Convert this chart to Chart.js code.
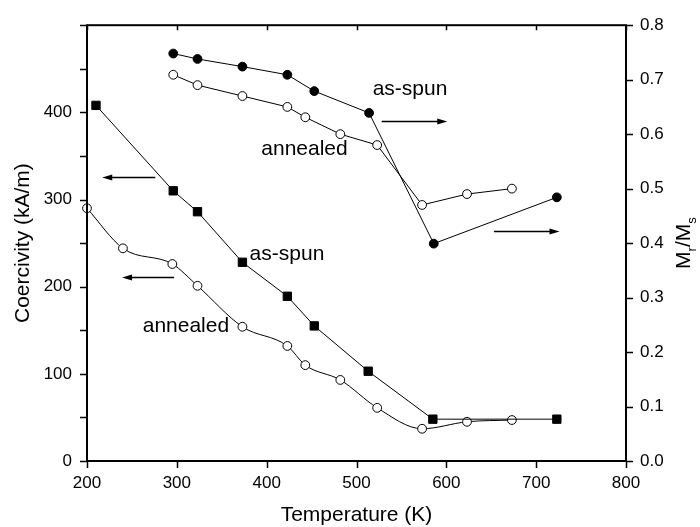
<!DOCTYPE html>
<html>
<head>
<meta charset="utf-8">
<script src="https://cdn.jsdelivr.net/npm/chart.js@4/dist/chart.umd.min.js"></script>
<style>
  html, body { margin: 0; padding: 0; background: #fff; }
  #wrap { width: 700px; height: 527px; }
</style>
</head>
<body>
<div id="wrap"><canvas id="c" width="700" height="527"></canvas></div>
<script>
// Coercivity (left axis, kA/m)
const asSpunHcT   = [210, 296, 323, 373, 423, 453, 513, 585, 723];
const asSpunHc    = [408, 310, 286, 228, 189, 155, 103, 48, 48];
const annealHcT   = [200, 240, 295, 323, 373, 423, 443, 482, 523, 573, 623, 673];
const annealHc    = [290, 244, 226, 201, 154, 132, 110, 93, 61, 37, 45, 47];

// Remanence ratio Mr/Ms (right axis)
const asSpunMrT   = [296, 323, 373, 423, 453, 514, 586, 723];
const asSpunMr    = [0.748, 0.738, 0.724, 0.709, 0.679, 0.639, 0.399, 0.484];
const annealMrT   = [296, 323, 373, 423, 443, 482, 523, 573, 623, 673];
const annealMr    = [0.709, 0.690, 0.670, 0.650, 0.631, 0.600, 0.580, 0.470, 0.490, 0.500];

const xTicks  = [200, 300, 400, 500, 600, 700, 800];
const yTicks  = [0, 100, 200, 300, 400];
const y2Ticks = [0, 0.1, 0.2, 0.3, 0.4, 0.5, 0.6, 0.7, 0.8];

// annotations: [x1, x2, y, axis]
const arrows = [
  [276, 217, 326, 'y'],
  [297, 239, 211, 'y'],
  [528, 601, 0.624, 'y2'],
  [653, 726, 0.422, 'y2'],
];
// [text, x(left), y(middle), axis]
const labels = [
  ['as-spun', 518, 0.682, 'y2'],
  ['annealed', 394, 0.573, 'y2'],
  ['as-spun', 381, 237, 'y'],
  ['annealed', 262, 155, 'y'],
];

const FONT = "'Liberation Sans', Arial, sans-serif";
const pts = (xs, ys) => xs.map((x, i) => ({ x, y: ys[i] }));

function series(data, axis, style, filled, smooth) {
  const r = style === 'rect' ? 5.9 : 4.4;
  return {
    data, yAxisID: axis, showLine: true,
    borderColor: '#000', borderWidth: 1,
    cubicInterpolationMode: smooth ? 'monotone' : 'default',
    pointStyle: style, pointRadius: r, pointHoverRadius: r,
    pointBorderColor: '#000', pointBorderWidth: 1,
    pointBackgroundColor: filled ? '#000' : '#fff',
    clip: false,
  };
}

const frame = {
  id: 'frame',
  afterDraw(chart) {
    const { ctx, chartArea: a, scales } = chart;
    const xs = scales.x, ys = scales.y, y2 = scales.y2;
    ctx.save();
    ctx.strokeStyle = '#000';
    ctx.lineWidth = 2;
    ctx.strokeRect(a.left, a.top, a.right - a.left, a.bottom - a.top);
    ctx.lineWidth = 1.5;
    ctx.beginPath();
    xTicks.forEach(v => {
      const px = Math.round(xs.getPixelForValue(v)) + 0.5;
      ctx.moveTo(px, a.bottom); ctx.lineTo(px, a.bottom + 7);
      ctx.moveTo(px, a.top); ctx.lineTo(px, a.top + 5);
    });
    for (let v = 0; v <= 500; v += 50) {
      const py = Math.round(ys.getPixelForValue(v)) + 0.5;
      ctx.moveTo(a.left, py); ctx.lineTo(a.left - 7, py);
    }
    y2Ticks.forEach(v => {
      const py = Math.round(y2.getPixelForValue(v)) + 0.5;
      ctx.moveTo(a.right, py); ctx.lineTo(a.right + 7, py);
    });
    ctx.stroke();

    // arrows
    ctx.lineWidth = 1.5;
    ctx.fillStyle = '#000';
    arrows.forEach(([x1, x2, y, ax]) => {
      const p1 = xs.getPixelForValue(x1), p2 = xs.getPixelForValue(x2);
      const py = Math.round(scales[ax].getPixelForValue(y)) + 0.5;
      const dir = Math.sign(p2 - p1);
      ctx.beginPath();
      ctx.moveTo(p1, py); ctx.lineTo(p2 - dir * 6, py);
      ctx.stroke();
      ctx.beginPath();
      ctx.moveTo(p2, py);
      ctx.lineTo(p2 - dir * 10, py - 3);
      ctx.lineTo(p2 - dir * 10, py + 3);
      ctx.closePath();
      ctx.fill();
    });

    // annotation text
    ctx.font = '21px ' + FONT;
    ctx.textBaseline = 'middle';
    ctx.textAlign = 'left';
    labels.forEach(([t, x, y, ax]) => {
      ctx.fillText(t, xs.getPixelForValue(x), scales[ax].getPixelForValue(y));
    });

    // axis titles
    const cy = (a.top + a.bottom) / 2;
    ctx.textAlign = 'center';
    ctx.fillText('Temperature (K)', (a.left + a.right) / 2, 515);
    ctx.save();
    ctx.translate(23, cy);
    ctx.rotate(-Math.PI / 2);
    ctx.fillText('Coercivity (kA/m)', 0, 0);
    ctx.restore();

    ctx.save();
    ctx.translate(684, cy);
    ctx.rotate(-Math.PI / 2);
    ctx.textAlign = 'left';
    const big = '21px ' + FONT, small = '13px ' + FONT;
    ctx.font = big;
    const wM = ctx.measureText('M').width, wS = ctx.measureText('/').width;
    ctx.font = small;
    const wr = ctx.measureText('r').width, ws = ctx.measureText('s').width;
    let x = -(2 * wM + wS + wr + ws) / 2;
    ctx.font = big; ctx.fillText('M', x, 0); x += wM;
    ctx.font = small; ctx.fillText('r', x, 8); x += wr;
    ctx.font = big; ctx.fillText('/', x, 0); x += wS;
    ctx.fillText('M', x, 0); x += wM;
    ctx.font = small; ctx.fillText('s', x, 8);
    ctx.restore();
    ctx.restore();
  }
};

const tickFont = { family: FONT, size: 17 };

new Chart(document.getElementById('c'), {
  type: 'scatter',
  data: {
    datasets: [
      series(pts(asSpunHcT, asSpunHc), 'y', 'rect', true),
      series(pts(annealHcT, annealHc), 'y', 'circle', false, true),
      series(pts(asSpunMrT, asSpunMr), 'y2', 'circle', true),
      series(pts(annealMrT, annealMr), 'y2', 'circle', false),
    ]
  },
  options: {
    responsive: false,
    animation: false,
    events: [],
    layout: { padding: { top: 20, left: 0, right: 0, bottom: 0 } },
    plugins: { legend: { display: false }, tooltip: { enabled: false } },
    scales: {
      x: {
        type: 'linear', position: 'bottom', min: 200, max: 800,
        afterBuildTicks: s => { s.ticks = xTicks.map(v => ({ value: v })); },
        ticks: { color: '#000', font: tickFont, padding: 12, maxRotation: 0 },
        grid: { display: false, drawTicks: false }, border: { display: false },
        afterFit: s => { s.height = 66; },
      },
      y: {
        position: 'left', min: 0, max: 500,
        afterBuildTicks: s => { s.ticks = yTicks.map(v => ({ value: v })); },
        ticks: { color: '#000', font: tickFont, padding: 15 },
        grid: { display: false, drawTicks: false }, border: { display: false },
        afterFit: s => { s.width = 87; },
      },
      y2: {
        position: 'right', min: 0, max: 0.8,
        afterBuildTicks: s => { s.ticks = y2Ticks.map(v => ({ value: v })); },
        ticks: { color: '#000', font: tickFont, padding: 14, callback: v => v.toFixed(1) },
        grid: { display: false, drawTicks: false }, border: { display: false },
        afterFit: s => { s.width = 74; },
      },
    }
  },
  plugins: [frame]
});
</script>
</body>
</html>
